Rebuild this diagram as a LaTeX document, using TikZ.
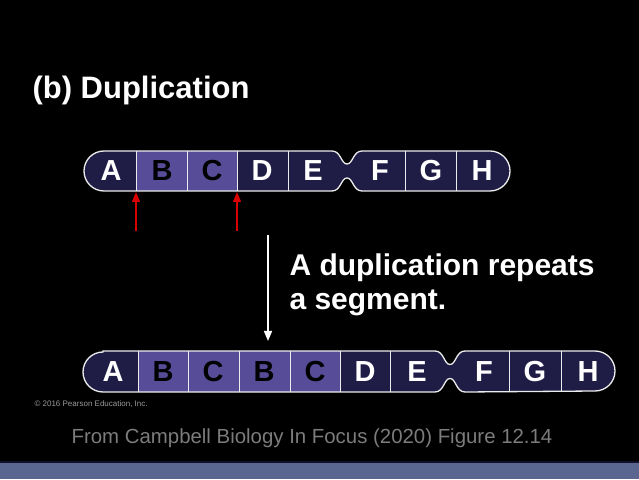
\documentclass[tikz,border=0pt]{standalone}
\usepackage{fontspec}
\setmainfont{Liberation Sans}
\usetikzlibrary{arrows.meta,positioning}
\definecolor{segdark}{HTML}{1F1D45}
\definecolor{segpurple}{HTML}{574C98}
\definecolor{barblue}{HTML}{5A6690}
\definecolor{capgray}{HTML}{7C7C7C}
\tikzset{
	letter/.style={
		text=white,
		font=\fontsize{29}{29}\selectfont\bfseries,
		inner sep=0pt
	},
	dupletter/.style={
		letter,
		text=black
	},
	outline/.style={draw=white!85!gray, line width=1.3pt},
	divider/.style={draw=white!85!gray, line width=1pt},
	breakarrow/.style={red!85!black, line width=1.4pt, -{Triangle[length=10pt,width=8pt]}},
	steparrow/.style={white, line width=1.4pt, -{Triangle[length=10pt,width=8pt]}},
}
% left, right, centromere, top, bottom
\newcommand{\chrompath}[5]{
	({#1+20},#4) -- ({#3-15},#4)
	.. controls ({#3-6},#4) and ({#3-6},{(#4+#5)/2+7}) .. (#3,{(#4+#5)/2+7})
	.. controls ({#3+6},{(#4+#5)/2+7}) and ({#3+6},#4) .. ({#3+15},#4)
	-- ({#2-20},#4) arc (90:-90:20) -- ({#3+15},#5)
	.. controls ({#3+6},#5) and ({#3+6},{(#4+#5)/2-7}) .. (#3,{(#4+#5)/2-7})
	.. controls ({#3-6},{(#4+#5)/2-7}) and ({#3-6},#5) .. ({#3-15},#5)
	-- ({#1+20},#5) arc (270:90:20) -- cycle
}
\begin{document}
\begin{tikzpicture}[x=1pt,y=1pt]
	\fill[black] (0,0) rectangle (639,479);
	\useasboundingbox (0,0) rectangle (639,479);
	% bottom bar
	\fill[barblue] (0,0) rectangle (639,16);
	\draw[segdark!60!black, line width=2pt] (0,17) -- (639,17);
	
	\node (title) [anchor=base west, text=white, font=\fontsize{31}{31}\selectfont\bfseries] at (29,380) {(b) Duplication};
	
	% original chromosome
	\begin{scope}
		\clip \chrompath{84}{510}{347}{328}{288};
		\fill[segdark] (80,280) rectangle (520,335);
		\fill[segpurple] (136,280) rectangle (237,335);
	\end{scope}
	\foreach \x in {136,187,237,288,405,456}
		\draw[divider] (\x,328) -- (\x,288);
	\draw[outline] \chrompath{84}{510}{347}{328}{288};
	\node (a1) [letter] at (111,308) {A};
	\node (b1) [dupletter] at (162,308) {B};
	\node (c1) [dupletter] at (212,308) {C};
	\node (d1) [letter] at (262,308) {D};
	\node (e1) [letter] at (313,308) {E};
	\node (f1) [letter] at (380,308) {F};
	\node (g1) [letter] at (431,308) {G};
	\node (h1) [letter] at (482,308) {H};
	
	% breakpoints
	\coordinate (brk1) at (136,248);
	\coordinate (brk2) at (237,248);
	\draw[breakarrow] (brk1) -- (136,287);
	\draw[breakarrow] (brk2) -- (237,287);
	
	% step
	\coordinate (stepstart) at (268,244);
	\coordinate (stepend) at (268,138);
	\draw[steparrow] (stepstart) -- (stepend);
	\node (explain) [anchor=north west, text=white, align=left,
		font=\fontsize{30}{34}\selectfont\bfseries] at (286,229)
		{A duplication repeats\\a segment.};
	
	% duplicated chromosome
	\begin{scope}
		\clip \chrompath{83}{615}{450}{128}{87};
		\fill[segdark] (80,80) rectangle (620,135);
		\fill[segpurple] (138,80) rectangle (340,135);
	\end{scope}
	\foreach \x in {138,188,239,290,340,390,509,561}
		\draw[divider] (\x,128) -- (\x,87);
	\draw[outline] \chrompath{83}{615}{450}{128}{87};
	\node (a2) [letter] at (113,107) {A};
	\node (b2) [dupletter] at (163,107) {B};
	\node (c2) [dupletter] at (213,107) {C};
	\node (b3) [dupletter] at (264,107) {B};
	\node (c3) [dupletter] at (315,107) {C};
	\node (d2) [letter] at (365,107) {D};
	\node (e2) [letter] at (417,107) {E};
	\node (f2) [letter] at (484,107) {F};
	\node (g2) [letter] at (535,107) {G};
	\node (h2) [letter] at (588,107) {H};
	
	\node (copy) [anchor=base west, text=gray!80, font=\fontsize{8}{8}\selectfont] at (31,73) {\textcopyright\ 2016 Pearson Education, Inc.};
	\node (source) [anchor=base, text=capgray, font=\fontsize{20.4}{20.4}\selectfont] at (312,36) {From Campbell Biology In Focus (2020) Figure 12.14};
\end{tikzpicture}
\end{document}
